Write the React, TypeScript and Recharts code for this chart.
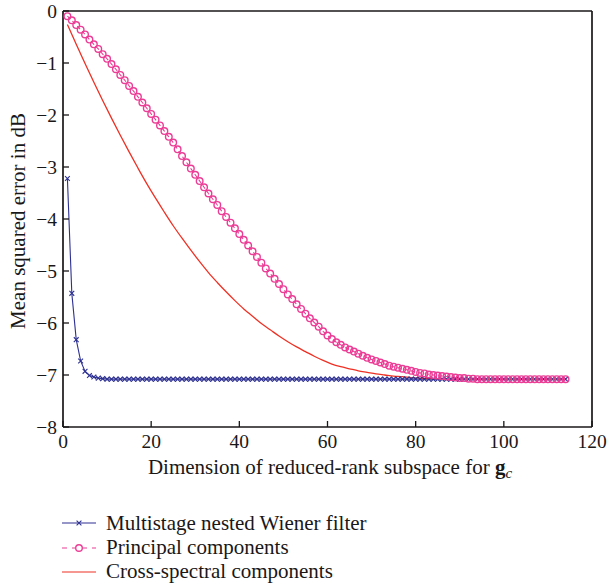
import React from "react";
import { LineChart, Line, XAxis, YAxis } from "recharts";

const xTicks = [0, 20, 40, 60, 80, 100, 120];
const yTicks = [-8, -7, -6, -5, -4, -3, -2, -1, 0];

// reduced-rank dimension for every marker, 1..114
const dims = Array.from({ length: 114 }, (_, i) => i + 1);

const msnwf = [
  -3.22, -5.43, -6.32, -6.73, -6.93, -7.01, -7.04, -7.06, -7.07, -7.08,
  -7.08, -7.08, -7.08, -7.08, -7.08, -7.08, -7.08, -7.08, -7.08, -7.08,
  -7.08, -7.08, -7.08, -7.08, -7.08, -7.08, -7.08, -7.08, -7.08, -7.08,
  -7.08, -7.08, -7.08, -7.08, -7.08, -7.08, -7.08, -7.08, -7.08, -7.08,
  -7.08, -7.08, -7.08, -7.08, -7.08, -7.08, -7.08, -7.08, -7.08, -7.08,
  -7.08, -7.08, -7.08, -7.08, -7.08, -7.08, -7.08, -7.08, -7.08, -7.08,
  -7.08, -7.08, -7.08, -7.08, -7.08, -7.08, -7.08, -7.08, -7.08, -7.08,
  -7.08, -7.08, -7.08, -7.08, -7.08, -7.08, -7.08, -7.08, -7.08, -7.08,
  -7.08, -7.08, -7.08, -7.08, -7.08, -7.08, -7.08, -7.08, -7.08, -7.08,
  -7.08, -7.08, -7.08, -7.08, -7.08, -7.08, -7.08, -7.08, -7.08, -7.08,
  -7.08, -7.08, -7.08, -7.08, -7.08, -7.08, -7.08, -7.08, -7.08, -7.08,
  -7.08, -7.08, -7.08, -7.08
];

const principal = [
  -0.10, -0.18, -0.27, -0.36, -0.45, -0.55, -0.64, -0.73, -0.83, -0.92,
  -1.02, -1.12, -1.23, -1.33, -1.44, -1.54, -1.65, -1.76, -1.87, -1.98,
  -2.09, -2.20, -2.31, -2.42, -2.53, -2.66, -2.79, -2.91, -3.03, -3.15,
  -3.27, -3.39, -3.51, -3.62, -3.73, -3.85, -3.96, -4.07, -4.18, -4.29,
  -4.40, -4.51, -4.62, -4.73, -4.84, -4.95, -5.05, -5.15, -5.25, -5.35,
  -5.45, -5.54, -5.64, -5.73, -5.82, -5.91, -5.99, -6.07, -6.16, -6.24,
  -6.31, -6.37, -6.42, -6.47, -6.51, -6.55, -6.59, -6.63, -6.67, -6.70,
  -6.73, -6.76, -6.79, -6.82, -6.84, -6.86, -6.88, -6.90, -6.92, -6.94,
  -6.96, -6.97, -6.99, -7.00, -7.01, -7.02, -7.03, -7.04, -7.05, -7.06,
  -7.06, -7.07, -7.07, -7.08, -7.08, -7.08, -7.08, -7.08, -7.08, -7.08,
  -7.08, -7.08, -7.08, -7.08, -7.08, -7.08, -7.08, -7.08, -7.08, -7.08,
  -7.08, -7.08, -7.08, -7.08
];

// cross-spectral curve is a plain line, sampled more sparsely
const csDims = [
  1, 3, 5, 7, 9, 11, 13, 15, 17, 19, 21, 23, 25, 27, 29, 31, 33, 35, 37, 39,
  41, 43, 45, 47, 49, 51, 53, 55, 57, 59, 61, 63, 65, 67, 69, 71, 73, 75, 77,
  79, 81, 83, 85, 87, 90, 100, 114
];
const crossSpectral = [
  -0.26, -0.64, -1.01, -1.37, -1.72, -2.06, -2.39, -2.71, -3.02, -3.32,
  -3.60, -3.87, -4.13, -4.37, -4.60, -4.82, -5.03, -5.22, -5.40, -5.57,
  -5.73, -5.87, -6.01, -6.13, -6.25, -6.36, -6.46, -6.55, -6.64, -6.72,
  -6.79, -6.84, -6.88, -6.92, -6.95, -6.98, -7.00, -7.02, -7.03, -7.05,
  -7.06, -7.07, -7.07, -7.08, -7.08, -7.08, -7.08
];

const seriesNames = [
  "Multistage nested Wiener filter",
  "Principal components",
  "Cross-spectral components"
];

const BLUE = "#2e3192";
const PINK = "#ec3d96";
const RED = "#ee3124";
const INK = "#1a1718";
const FONT = "'Liberation Serif', 'DejaVu Serif', serif";
const TICK_FS = 19.5;
const LABEL_FS = 21;

const mainData = dims.map((d, i) => ({ dim: d, msnwf: msnwf[i], pc: principal[i] }));
const csData = csDims.map((d, i) => ({ dim: d, cs: crossSpectral[i] }));

const fmt = (v: number) => (v < 0 ? "\u2212" + Math.abs(v) : String(v));
const blank = () => "";

const frame = { stroke: INK, strokeWidth: 1.7 };
const tickMark = { stroke: INK, strokeWidth: 1.3 };

const CrossDot = (props: any) => {
  const { cx, cy, index } = props;
  const s = 2.4;
  return (
    <path
      key={"x" + index}
      d={`M${cx - s},${cy - s}L${cx + s},${cy + s}M${cx - s},${cy + s}L${cx + s},${cy - s}`}
      stroke={BLUE}
      strokeWidth={1.1}
      fill="none"
    />
  );
};

const CircleDot = (props: any) => {
  const { cx, cy, index } = props;
  return (
    <circle key={"o" + index} cx={cx} cy={cy} r={3.3} stroke={PINK} strokeWidth={1.4} fill="none" />
  );
};

// axis titles and the legend, laid over the chart
const Annotations = () => (
  <svg
    width={608}
    height={586}
    style={{ position: "absolute", left: 0, top: 0, pointerEvents: "none" }}
  >
    <text x={330} y={474} textAnchor="middle" fontFamily={FONT} fontSize={LABEL_FS} fill={INK}>
      Dimension of reduced-rank subspace for{" "}
      <tspan fontWeight="bold">g</tspan>
      <tspan fontStyle="italic" fontSize={15} dy={4}>c</tspan>
    </text>
    <text
      x={25}
      y={221}
      transform="rotate(-90 25 221)"
      textAnchor="middle"
      fontFamily={FONT}
      fontSize={LABEL_FS}
      fill={INK}
    >
      Mean squared error in dB
    </text>
    <g>
      <line x1={62} x2={96} y1={523} y2={523} stroke={BLUE} strokeWidth={1.2} />
      <path d="M76.6,520.6L81.4,525.4M76.6,525.4L81.4,520.6" stroke={BLUE} strokeWidth={1.1} />
      <text x={106} y={530} fontFamily={FONT} fontSize={LABEL_FS} fill={INK}>{seriesNames[0]}</text>
    </g>
    <g>
      <line x1={62} x2={96} y1={548} y2={548} stroke={PINK} strokeWidth={1.2} strokeDasharray="5 5" />
      <circle cx={79} cy={548} r={3.3} stroke={PINK} strokeWidth={1.4} fill="#fff" />
      <text x={106} y={554} fontFamily={FONT} fontSize={LABEL_FS} fill={INK}>{seriesNames[1]}</text>
    </g>
    <g>
      <line x1={62} x2={96} y1={572} y2={572} stroke={RED} strokeWidth={1.2} />
      <text x={106} y={578} fontFamily={FONT} fontSize={LABEL_FS} fill={INK}>{seriesNames[2]}</text>
    </g>
  </svg>
);

export default function App() {
  const tickStyle = { fontFamily: FONT, fontSize: TICK_FS, fill: INK };
  return (
    <div style={{ position: "absolute", left: 0, top: 0, width: 608, height: 586 }}>
      <LineChart width={608} height={586} margin={{ top: 10, right: 15, bottom: 99, left: 1 }}>
        <XAxis
          dataKey="dim"
          type="number"
          domain={[0, 120]}
          ticks={xTicks}
          height={60}
          tickSize={-6}
          tickMargin={13}
          tick={tickStyle}
          tickLine={tickMark}
          axisLine={frame}
        />
        <XAxis
          xAxisId="top"
          orientation="top"
          type="number"
          domain={[0, 120]}
          ticks={xTicks}
          height={1}
          tickSize={-6}
          tickFormatter={blank}
          tickLine={tickMark}
          axisLine={frame}
        />
        <YAxis
          type="number"
          domain={[-8, 0]}
          ticks={yTicks}
          width={62}
          tickSize={-6}
          tickMargin={12}
          tickFormatter={fmt}
          tick={tickStyle}
          tickLine={tickMark}
          axisLine={frame}
        />
        <YAxis
          yAxisId="right"
          orientation="right"
          type="number"
          domain={[-8, 0]}
          ticks={yTicks}
          width={1}
          tickSize={-6}
          tickFormatter={blank}
          tickLine={tickMark}
          axisLine={frame}
        />
        <Line
          data={mainData}
          dataKey="msnwf"
          name={seriesNames[0]}
          stroke={BLUE}
          strokeWidth={1.1}
          dot={CrossDot}
          activeDot={false}
          isAnimationActive={false}
        />
        <Line
          data={mainData}
          dataKey="pc"
          name={seriesNames[1]}
          stroke={PINK}
          strokeWidth={1.1}
          strokeDasharray="4 3"
          dot={CircleDot}
          activeDot={false}
          isAnimationActive={false}
        />
        <Line
          data={csData}
          dataKey="cs"
          name={seriesNames[2]}
          type="monotone"
          stroke={RED}
          strokeWidth={1.3}
          dot={false}
          activeDot={false}
          isAnimationActive={false}
        />
      </LineChart>
      <Annotations />
    </div>
  );
}
